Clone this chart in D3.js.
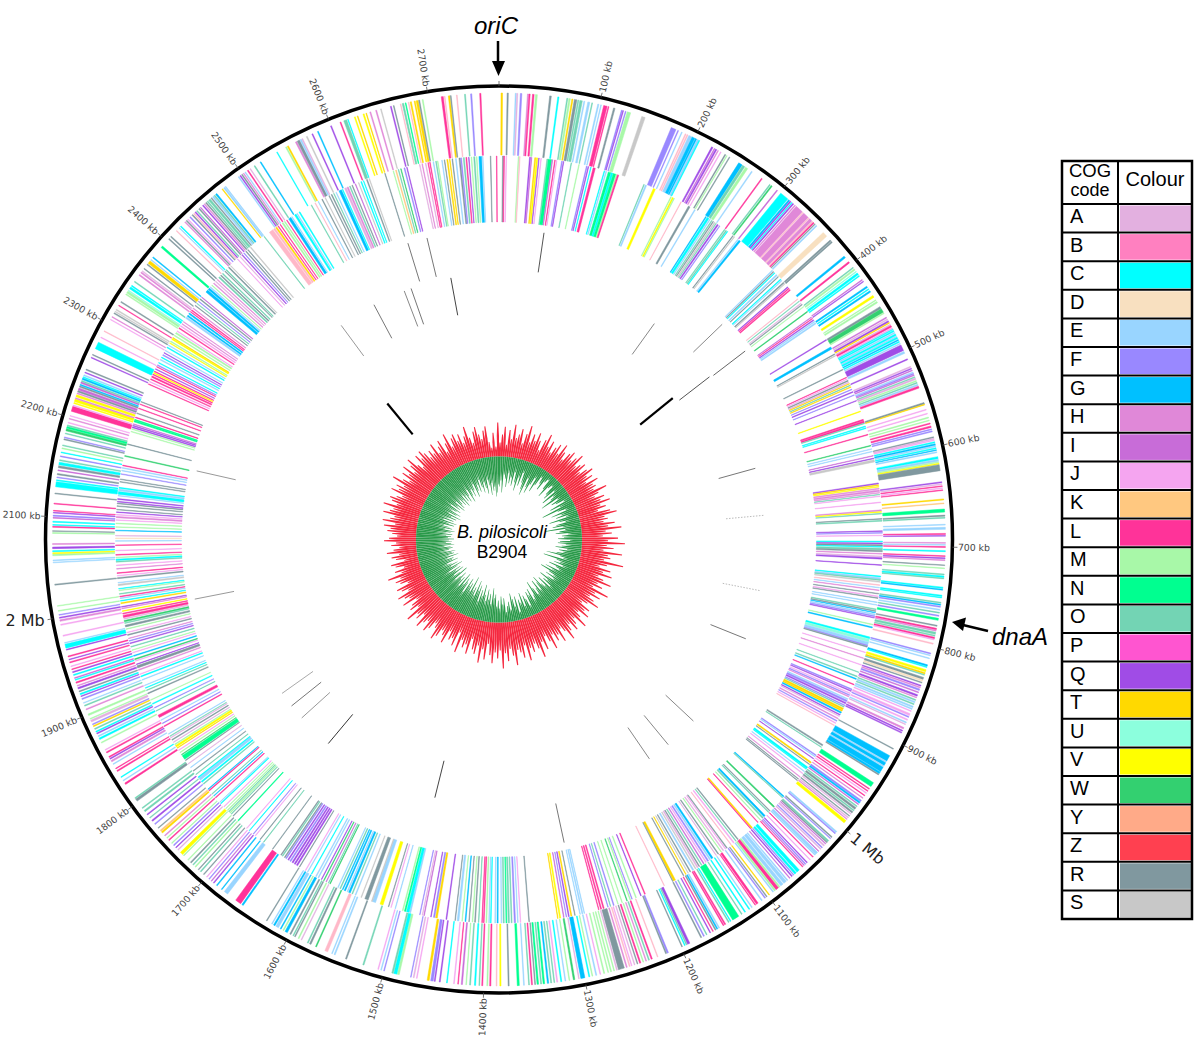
<!DOCTYPE html>
<html><head><meta charset="utf-8">
<script src="https://cdn.jsdelivr.net/npm/d3@7"></script>
<style>html,body{margin:0;background:#fff}svg{display:block}</style></head>
<body><svg id="c" width="1200" height="1037"></svg>
<script>
const genomeKb = 2770;
const markSpanKb = 2760;
const tickKb = d3.range(0, 2800, 100).filter(k => k < genomeKb);
const cogCodes = ["A","B","C","D","E","F","G","H","I","J","K","L","M","N","O","P","Q","T","U","V","W","Y","Z","R","S"];
const cogColours = ["#E3B0E0","#FF80C0","#00FFFF","#F8E0C0","#99D5FF","#9988FF","#00C0FF","#E088D8","#C86CD8","#F5A5F0","#FFC880","#FF3399","#A8F8A8","#00FF90","#73D4B4","#FF55D0","#A04CE6","#FFD900","#8CFFDD","#FFFF00","#33D070","#FFAA88","#FF4050","#80989F","#C8C8C8"];

// each gene: [start kb, length kb, COG code]; "x" = pale pink seen in the picture
const outerGenes = [
[2,1.5,"T"],[8,1.2,"R"],[16,1,"E"],[17.5,1,"A"],[21,1.5,"F"],[28,1,"H"],[29.5,1.2,"L"],[33,1.6,"L"],[36,1.8,"M"],
[50,1.6,"R"],[58,1.2,"C"],[67,1,"O"],[69,1.5,"M"],[72,1.2,"T"],[74.5,2.5,"R"],[78,1,"O"],[80,2.5,"O"],[84,1,"E"],[88,2,"E"],[92,.8,"O"],[98,1.2,"E"],[101,.7,"E"],[104,3.5,"L"],[108.5,.8,"L"],[114,1.5,"R"],[122,1,"F"],[123.5,.7,"Q"],[126,.8,"F"],[128,3.5,"M"],[143,3.5,"S"],
[174,5,"F"],[181,.8,"F"],[185,.8,"E"],[189,1,"x"],[191,1,"x"],[193,3,"E"],[196.5,3,"G"],[200,1.5,"G"],[202,2,"E"],[204,.8,"C"],[218,1.5,"Q"],[221,.8,"I"],[222.5,1.3,"Q"],[225,.8,"H"],[228,.8,"J"],[233,1,"R"],[235,.7,"M"],[238,.8,"R"],[249,4,"G"],[253.5,2.5,"O"],[257,2.5,"M"],[264,1,"E"],[276,1,"L"],[286,1,"O"],[288,1.2,"W"],[295,1,"I"],[300,9,"C"],[310,1.5,"G"],[312,1.2,"Q"],[314,.8,"C"],[315.5,1.2,"Q"],[318,1,"H"],[320,8,"H"],[328.5,.8,"x"],[330,6,"H"],[336.5,.8,"x"],[338,3,"H"],[341.5,1,"x"],[343,1.2,"L"],[345,.8,"R"],[347,1.2,"E"],
[357,5,"D"],[367,1.5,"R"],[369,1.2,"R"],[388,2,"G"],[395,1.5,"L"],[402,1,"O"],[404,1.5,"M"],[407,.7,"U"],[409,2,"C"],[412,1,"C"],[417,.8,"I"],[419,.8,"Q"],[425,1.5,"G"],[428,1,"C"],[430.5,1.5,"G"],[436,2,"V"],[441,.8,"M"],[443,1.5,"M"],[449,2,"R"],[451.5,4,"W"],[456,1,"M"],[461,1,"I"],[463,1,"A"],[465,1.5,"Q"],[467,.8,"T"],[469,1,"A"],[470.5,1.6,"L"],[473,1,"J"],[474.5,.8,"C"],[476,1.2,"C"],[478,1.2,"E"],[480,1.5,"C"],[482,1,"E"],[483.5,1.5,"C"],[486,1,"G"],[488,1,"C"],[490,1,"E"],[492,6,"Q"],[499,2,"E"],[507,1,"Q"],[515,1,"A"],[517,1,"Q"],[519,.8,"I"],[521,1,"E"],[522.5,1,"F"],[524,.8,"I"],[526,1,"O"],[527.5,1.5,"A"],[530,1,"M"],[532,1,"O"],[534,1.2,"E"],[536,2,"L"],
[553,1.5,"R"],[554.8,.7,"T"],[560,.8,"J"],[564,.8,"J"],[568,1,"M"],[571,.8,"M"],[574,1,"L"],[577,1.5,"L"],[580,.8,"F"],[582,1,"F"],[588,1,"R"],[589.5,1,"A"],[591,.8,"J"],[593,1,"C"],[595,1.5,"G"],[597,1,"E"],[599,1,"C"],[601,.8,"G"],[603,1,"E"],
[608,2,"C"],[610.5,2,"E"],[613,.8,"M"],[614.5,1,"V"],[616,6,"R"],[633,1,"Q"],[635,.8,"A"],[637,.8,"L"],[639,.8,"J"],[641,.7,"L"],[650,1,"T"],[654,.7,"K"],[660,3,"N"],[666,1,"R"],[668,1,"O"],[675,.8,"E"],[678,2,"E"],
[684,1,"L"],[686,.7,"Q"],[693,.8,"H"],[695,.7,"E"],[697,.8,"L"],[701,1,"C"],[706,.8,"L"],[708,1,"Q"],[710,.8,"H"],[715,.7,"R"],[718,.7,"M"],[724,1,"O"],[726,1.5,"C"],[728,.8,"O"],[737,1.2,"C"],[739,1,"G"],[745,1.2,"C"],[747,.7,"C"],[752,1,"O"],[754,1,"G"],[756,1,"F"],[759,1,"E"],[762,.8,"O"],[765,1,"F"],[768,2,"N"],[775,1,"R"],[778,1.5,"L"],[780,.8,"H"],[782,2,"O"],[785,1,"O"],[787,1.5,"L"],[789,.7,"J"],[793,1,"x"],
[803,1,"F"],[805,.8,"E"],[808,.8,"E"],[815,1.5,"G"],[817,.8,"C"],[820,2,"V"],[823,1.5,"T"],[825,.8,"O"],[828,2,"R"],[830.5,1.5,"D"],[833,.8,"R"],[836,1,"Q"],[838,1,"H"],[840,1.5,"F"],[843,1,"I"],[846,1.5,"Q"],[848.5,.8,"H"],[851,1,"O"],[853,1.5,"E"],[855.5,1,"O"],[858,1.5,"E"],[860.5,1,"E"],[863,.8,"J"],[866,2,"J"],[869,1,"F"],[872,1.2,"J"],[875,1,"E"],[877,.8,"A"],[881,1.5,"H"],[884,1,"Q"],[886,1,"Q"],
[904,.8,"R"],[912,6,"G"],[918.5,.8,"E"],[920,3,"G"],[923.5,.7,"E"],[925,5,"G"],[930.5,2,"G"],[933,1,"R"],
[943,4.5,"N"],[950,.8,"L"],[952.5,.8,"L"],[955,.8,"J"],[958,.7,"L"],[961,.7,"H"],[964,1.5,"F"],[966,1.5,"G"],[968.5,.8,"I"],[971,1,"O"],[973,2,"R"],[976,1,"O"],[978,1.5,"R"],[980.5,.8,"A"],[983,.8,"R"],[985,1,"A"],[987,.8,"H"],[989,3,"V"],
[1003,1.5,"E"],[1005,1,"F"],[1010,1,"R"],[1012,.8,"F"],[1015,1.5,"O"],[1017,1,"R"],[1019,.8,"I"],[1021,1.5,"A"],[1024,1,"F"],[1026,1,"A"],[1029,.8,"I"],[1031,2.5,"E"],[1034,1,"E"],[1037,.8,"L"],[1041,.8,"J"],[1045,.8,"Q"],[1047,1,"F"],[1049,.8,"I"],[1051,.8,"L"],[1056,3,"C"],[1060,2,"C"],[1063,.8,"F"],[1065,1,"Q"],[1068,.7,"I"],[1071,1,"E"],[1073,3,"E"],[1077,3,"E"],[1081,1.5,"M"],[1083,3,"L"],[1086.5,1.5,"M"],[1089,1,"E"],[1094,.8,"T"],[1097,.8,"R"],[1099,1,"F"],[1103,1,"E"],[1108,2,"L"],[1111,.7,"L"],[1115,.8,"E"],[1118,1,"C"],[1123,1,"C"],[1127,.8,"O"],[1131,7,"N"],[1140,.8,"C"],[1142,1,"O"],[1146,1.2,"L"],[1148,1,"L"],[1153,1,"E"],[1155,1.2,"G"],[1157,1,"R"],[1160,.8,"L"],[1163,.8,"Q"],[1167,.8,"O"],[1170,1,"F"],[1173,1,"R"],[1186,2.5,"Q"],[1189,1,"O"],[1191,.8,"C"],[1194,.8,"R"],
[1209,1.5,"F"],[1211,1,"R"],[1220,.8,"x"],[1226,1.2,"L"],[1229,1,"O"],[1232,.8,"H"],[1235,.8,"M"],[1238,1.2,"L"],[1241,.8,"R"],[1244,.8,"A"],[1247,.8,"J"],[1249,1,"x"],[1252,1,"H"],[1255,6,"R"],[1262,1,"A"],[1265,.8,"M"],[1268,1,"M"],[1271,.8,"M"],[1275,1,"M"],[1279,.8,"J"],[1283,1,"E"],[1287,.8,"M"],[1290,1,"C"],[1295,4,"G"],[1300.5,.8,"A"],[1305,1.5,"W"],[1310,.8,"M"],[1314,.8,"E"],[1318,1,"C"],[1322,1,"J"],[1325,.8,"O"],[1328,1,"O"],[1331,1.3,"G"],[1335,1.5,"N"],[1338,1,"O"],[1341,1.5,"N"],[1344,.8,"R"],[1347,1,"L"],[1350,.8,"O"],[1355,.8,"E"],[1360,2,"N"],[1370,1,"R"],[1378,1.2,"V"],[1382,.8,"x"],[1388,1.2,"L"],[1391,1,"M"],
[1396,1,"L"],[1399,.8,"O"],[1403,1.2,"C"],[1408,1,"O"],[1412,.7,"M"],[1416,1.2,"I"],[1420,.7,"L"],[1424,.8,"J"],[1431,.8,"C"],[1438,1,"Q"],[1443,1,"Q"],[1445,2.5,"F"],[1449,2,"T"],[1461,.8,"J"],[1464,1,"A"],[1467,.7,"F"],[1479,2,"M"],[1481.5,3,"C"],[1485,1.5,"O"],[1494,.8,"F"],[1497,.8,"E"],[1500,.8,"J"],[1515,1.2,"O"],[1533,1.2,"R"],[1545,1.2,"E"],[1548,.8,"E"],[1553,3,"x"],[1565,1,"W"],[1571,1.5,"R"],[1574,1,"O"],[1581,.8,"A"],[1584,1,"M"],[1588,1,"R"],[1590,.8,"O"],[1593,1.2,"R"],[1597,2.5,"G"],[1601,1,"M"],[1604,1,"G"],[1607,3,"E"],[1611,1.5,"G"],[1614,.8,"E"],[1620,.8,"R"],
[1648,1.5,"G"],[1651,6,"L"],[1667,4,"E"],[1674,.8,"G"],[1680,1,"G"],[1684,1,"Q"],[1687,.8,"I"],[1690,.8,"F"],[1693,.8,"J"],[1697,.8,"R"],[1701,1,"O"],[1704,.8,"R"],[1708,1,"M"],[1711,1,"O"],[1714,1.2,"R"],[1718,.8,"M"],[1724,1,"M"],[1726,3,"V"],[1732,.8,"A"],[1735,.8,"Q"],[1738,1,"F"],[1741,.8,"M"],[1745,1,"L"],[1748,.8,"M"],[1751,1,"H"],[1755,1.5,"T"],[1757,1.5,"K"],[1761,.8,"R"],[1766,1,"F"],[1770,1.3,"Q"],[1774,.8,"O"],[1778,1,"Q"],[1782,1.5,"O"],[1786,1,"O"],[1795,2.5,"R"],[1798,1,"O"],[1815,1.5,"L"],[1819,.8,"E"],[1823,.8,"C"],[1830,1.2,"L"],[1833,.7,"L"],[1838,.8,"E"],[1841,1.5,"H"],[1844,1,"Q"],[1846,1,"L"],[1851,1.2,"L"],[1854,.8,"J"],[1862,1,"M"],[1866,1.5,"C"],[1869,1,"E"],[1872,1,"Q"],[1874,1,"C"],[1877,1,"O"],[1880,1,"T"],[1882,1,"F"],[1885,2,"A"],[1888,.8,"M"],[1892,1.5,"M"],[1898,1,"H"],[1902,1,"O"],[1905,.7,"E"],[1909,1,"F"],[1912,.8,"Q"],[1914,1.2,"C"],[1917,1,"R"],[1920,1.5,"Q"],[1923,.8,"H"],[1926,1.2,"L"],[1929,1,"C"],[1931,.8,"I"],[1934,1,"C"],[1937,1,"Q"],[1940,.8,"L"],[1943,.8,"J"],[1947,1,"L"],[1950,.7,"Q"],[1953,1,"L"],
[1960,.8,"Q"],[1962,4,"C"],[1967,.7,"E"],[1974,1,"J"],[1985,1,"J"],[1989,1.5,"H"],[1992,1,"Q"],[1995,.8,"F"],[1999,.8,"M"],[2004,.7,"M"],
[2025,1,"R"],[2047,.7,"E"],[2049,.8,"E"],[2054,1.5,"M"],[2056,1,"V"],[2058,1,"C"],[2061,1.5,"Q"],[2065,1,"H"],[2076,.8,"M"],[2078,.7,"R"],[2082,1,"L"],[2084,.8,"C"],[2087,1,"C"],[2091,.8,"I"],[2093,1,"F"],[2096,.8,"Q"],[2098,.7,"L"],[2105,.8,"L"],[2115,.8,"R"],[2122,5,"C"],[2128,1,"C"],[2131,.8,"F"],[2134,1.2,"R"],[2138,.8,"I"],[2141,2,"R"],[2144,2.5,"C"],[2148,1,"O"],[2152,.8,"F"],[2156,.7,"C"],[2160,.8,"M"],[2163,.8,"O"],[2169,1,"R"],[2171,.8,"F"],[2175,.8,"O"],[2178,2,"W"],[2180.5,2,"N"],[2183,1,"O"],[2186,.8,"J"],[2190,.8,"H"],[2193,.7,"J"],[2198,5,"L"],[2203.5,.8,"J"],[2206,1,"V"],[2208,2.5,"V"],[2211,1,"H"],[2213,2,"V"],[2216,1,"H"],[2218,1.5,"R"],[2220,2,"I"],[2223,1.5,"R"],[2225,1,"G"],[2227,1.5,"I"],[2229,1,"O"],[2231,1.5,"G"],[2233,1,"C"],[2235,1,"E"],[2238,.8,"Q"],[2241,1,"R"],[2254,.8,"Q"],[2257,.8,"R"],[2264,7,"C"],[2276,.7,"J"],[2283,.7,"x"],[2296,.7,"J"],[2299,.7,"H"],[2303,1,"R"],[2305,.8,"S"],[2307,1,"S"],[2312,.7,"L"],[2316,1,"R"],[2325,1,"M"],[2327,2,"M"],[2329.5,.8,"U"],[2332,2,"C"],[2335,1,"C"],[2340,1,"O"],[2348,1.2,"H"],[2351,1.2,"H"],[2353,.8,"A"],[2356,.8,"R"],[2361,1,"R"],[2363,3,"T"],[2367,.8,"E"],[2370,1,"G"],[2383,2,"N"],[2394,1,"R"],[2397,1,"R"],[2405,.8,"x"],[2409,.7,"E"],[2411,1,"C"],[2417,1,"H"],[2419,1,"R"],[2421,.8,"J"],[2424,1,"F"],[2427,1,"R"],[2429,1,"x"],[2431,1,"Q"],[2433,1,"O"],[2436,1,"R"],[2438,.8,"I"],[2441,1,"Q"],[2443,1,"H"],[2445,1,"R"],[2447,1,"O"],[2449,2,"O"],[2452,1,"R"],[2454,1.5,"E"],[2456,1,"O"],[2458,1.5,"G"],[2466,.8,"T"],[2468,1.5,"E"],[2470,.8,"E"],
[2486,1,"E"],[2488,1,"Q"],[2490,1,"R"],[2492,.8,"H"],[2494,.8,"E"],[2497,1,"L"],[2500,.8,"A"],[2505,1,"O"],[2512,1,"G"],[2531,.8,"C"],[2541,1.2,"M"],[2543,1.2,"T"],[2552,1.5,"H"],[2554,2.5,"R"],[2557,1.5,"E"],[2559,1,"A"],[2564,1,"S"],[2570,1,"Q"],[2576,1,"G"],[2590,1,"Q"],[2600,1,"L"],[2604,3,"O"],[2608,.7,"C"],[2615,1,"V"],[2618,.8,"T"],[2624,1.2,"V"],[2627,.7,"T"],[2631,1,"H"],[2637,1,"H"],[2642,.8,"S"],[2652,1,"Q"],[2655,.8,"R"],[2662,.7,"x"],[2664,1.5,"O"],[2667,.8,"N"],[2670,.7,"x"],[2672,1.2,"T"],[2676,1,"T"],[2678,2,"T"],[2680.5,1,"R"],[2684,1,"M"],[2703,2,"L"],[2706,.8,"x"],[2710,1.5,"T"],[2712,.8,"R"],[2718,.8,"x"],[2726,1,"O"],[2732,1.2,"F"],[2741,1.2,"L"]
];

const innerGenes = [
[4,1.2,"R"],[5.5,.8,"L"],[8,.8,"J"],[22,.8,"M"],[23.5,.7,"x"],[35,1.2,"Q"],[37,.7,"I"],[41,1.2,"T"],[43,1.5,"V"],[45.5,.7,"Q"],[48,.7,"J"],[55,1,"O"],[56.5,4,"N"],[61,.8,"I"],[64,.8,"L"],[66,.7,"J"],[72,1,"F"],[74,.7,"Q"],[83,.8,"O"],[92,.8,"M"],[101,1,"F"],[103,.8,"Q"],[106,.7,"C"],[109,2.5,"L"],[122,.8,"C"],[124,1,"E"],[127,3,"N"],[130.5,2,"C"],[133,3,"N"],[136.5,1,"M"],[138,1.5,"L"],
[170,.8,"O"],[172,1.5,"E"],[182,2.5,"V"],[204,.8,"M"],[206,1.5,"V"],[208,.8,"M"],[217,.7,"x"],[227,2,"R"],[235,1,"E"],[250,1,"G"],[252,2.5,"C"],[255.5,1,"E"],[258,1,"O"],[260,.8,"R"],[262,1,"S"],[264,.8,"O"],[266,1.5,"Q"],[269,.8,"F"],[276,1,"O"],[278,1.2,"O"],[280,.7,"C"],[288,.8,"R"],[290,.7,"S"],[295,1,"E"],[297,2,"G"],
[348,1,"E"],[350,1,"R"],[352,.8,"C"],[355,1.5,"E"],[358,.8,"R"],[362,1,"C"],[364,.8,"E"],[367,1.2,"R"],[369,.8,"S"],[374,1,"Q"],[376,1,"L"],[378,1.2,"L"],[392,.7,"x"],[395,.7,"O"],[398,.8,"A"],[400,.8,"R"],[403,.7,"M"],[410,1,"W"],[418,.7,"I"],[420,.7,"L"],[422,1,"Q"],[424,1,"E"],[426,1.5,"E"],
[449,1,"Q"],[459,2.5,"G"],[468,.8,"R"],[470,.7,"S"],[488,.8,"R"],[498,.7,"L"],[500,.7,"J"],[502,1,"R"],[504,1,"A"],[506,.7,"T"],[508,.8,"O"],[510,.8,"T"],[513,.7,"F"],[516,1,"Q"],[520,.7,"F"],[527,.7,"Q"],[540,.8,"V"],[550,1.5,"L"],[552,2,"L"],[554.5,.7,"O"],[558,.8,"C"],[560,1,"C"],[568,.8,"L"],[581,.8,"W"],[585,.7,"E"],[588,.7,"E"],[593,.7,"I"],[596,.8,"Q"],[598,2.5,"S"],
[625,1.2,"Q"],[627,1,"T"],[629,.8,"V"],[631,1,"H"],[633,2,"H"],[636,.7,"H"],[638,.7,"O"],[640,.7,"J"],[647,.7,"J"],[656,1.2,"H"],[658,.7,"V"],[660,.7,"O"],[666,.7,"R"],[668,1,"O"],[680,.7,"Q"],[682,.7,"F"],[685,.7,"J"],[692,1,"C"],[694,1.2,"Q"],[696,1.5,"R"],[698,.8,"C"],[700,2,"O"],[702.5,1.5,"R"],[706,.8,"H"],[709,1,"A"],[711,1.5,"Q"],[719,.7,"Q"],
[732,1,"C"],[734,2,"E"],[736,1,"O"],[738,1.2,"S"],[742,.8,"x"],[745,.7,"E"],[748,.8,"H"],[752,.7,"R"],[755,.8,"J"],[757,.8,"R"],[762,.7,"E"],[765,.7,"E"],[770,1,"O"],[772,1,"R"],[774,.7,"G"],[776,1,"E"],[778,1,"F"],[780,.7,"Q"],[788,.8,"M"],[791,1.2,"G"],
[803,2,"C"],[805.5,3,"U"],[809,3,"E"],[812.5,1,"F"],[814,1,"R"],
[821,.7,"J"],[828,.7,"H"],[836,.7,"J"],[845,.7,"O"],[850,1,"O"],[853,1,"G"],[860,.8,"L"],[866,1,"F"],[868,1,"Q"],[871,.7,"J"],[873,1,"F"],[875,.8,"H"],[878,1,"E"],[880,2,"F"],[883,1.5,"Q"],[886,1,"F"],[888,.8,"O"],[890,2,"T"],[892.5,1.5,"T"],[895,1.5,"G"],[898,1,"Q"],[900,.8,"A"],[903,1,"H"],[906,1,"F"],[909,.7,"J"],[912,.7,"x"],
[938,1.5,"R"],[941,.7,"O"],[952,1,"F"],[954,.8,"E"],[957,.7,"Q"],[962,1.5,"T"],[965,.7,"R"],[969,2,"C"],[971.5,.7,"C"],[975,.7,"E"],[978,.8,"J"],[983,.7,"H"],[986,.7,"R"],[988,.7,"R"],
[1012,1.2,"G"],[1014,.8,"O"],[1028,1.5,"W"],[1035,.8,"R"],[1037,1,"O"],[1043,2,"G"],[1046,1.5,"O"],[1050,.8,"M"],[1054,.8,"L"],[1063,1.5,"T"],[1065,.7,"L"],[1084,1,"R"],[1087,.8,"O"],[1090,1.2,"J"],[1094,.8,"x"],[1100,1,"R"],[1102,.8,"J"],[1105,1,"A"],[1108,.8,"M"],[1112,1,"R"],[1115,.7,"A"],[1120,2,"G"],[1123,1.5,"E"],[1126,1.5,"F"],[1129,1,"J"],[1132,1,"I"],[1135,1,"O"],[1138,1,"R"],[1140,1.5,"A"],[1143,1,"S"],[1146,1.5,"E"],[1150,1,"R"],[1153,.7,"S"],[1156,.7,"T"],[1159,.8,"R"],[1170,2.5,"T"],[1173,.7,"R"],[1184,.7,"x"],
[1208,1,"L"],[1213,.8,"Q"],[1219,1,"M"],[1224,.7,"F"],[1226,1,"M"],[1230,.8,"W"],[1236,.7,"M"],[1241,.7,"M"],[1246,1,"F"],[1250,.7,"O"],[1253,.7,"F"],[1258,1.2,"L"],[1261,1.2,"L"],[1264,.7,"L"],[1281,.7,"E"],[1283,1.2,"E"],[1286,.7,"E"],[1292,.7,"R"],[1296,1.2,"T"],[1299,1,"Q"],[1302,.7,"F"],[1305,.8,"I"],[1309,1.3,"V"],[1312,.7,"T"],[1345,.8,"R"],[1355,.7,"J"],[1358,.7,"E"],[1361,1.5,"F"],[1365,1,"O"],[1368,1.5,"O"],[1371,1,"N"],[1374,1.2,"O"],[1377,.7,"E"],[1381,1.2,"G"],[1384,.8,"E"],[1389,.8,"C"],[1391,.8,"E"],[1394,1,"M"],
[1397,1,"L"],[1399,.8,"L"],[1403,.7,"O"],[1407,1,"R"],[1410,.8,"M"],[1414,.7,"R"],[1418,1,"G"],[1422,.7,"M"],[1426,2,"E"],[1430,.7,"R"],[1440,1,"Q"],[1451,2,"T"],[1454,1.5,"F"],[1458,.8,"Q"],[1466,.8,"I"],[1468,.7,"A"],[1471,.7,"F"],[1482,1.5,"E"],[1484,3,"C"],[1488,1.5,"N"],[1491,1,"M"],[1500,.7,"E"],[1505,.7,"J"],[1508,.7,"R"],
[1515,3.5,"V"],[1524,4,"E"],[1528,1,"S"],[1533,4,"R"],[1541,.8,"S"],[1548,1,"E"],[1552,1,"O"],[1555,2,"G"],[1558,1,"E"],[1561,1.5,"G"],[1564,1,"G"],[1567,1,"O"],[1570,.8,"E"],[1580,.8,"W"],[1582,.7,"O"],[1585,.7,"I"],[1588,.8,"W"],[1591,.7,"Q"],[1595,1,"E"],[1598,1,"E"],[1604,.8,"C"],[1609,.8,"E"],[1612,.8,"J"],[1620,.7,"R"],[1623,1.5,"Q"],[1626,1.5,"Q"],[1629,1.5,"Q"],[1632,1.5,"F"],[1635,1.2,"Q"],[1638,1.2,"F"],[1640,1,"R"],[1643,1,"O"],[1645,1,"R"],
[1657,.7,"R"],[1670,.7,"O"],[1675,.7,"R"],[1682,.7,"J"],[1685,.7,"F"],[1691,.7,"C"],[1695,.7,"J"],[1708,1,"N"],[1716,.7,"R"],[1719,.8,"O"],[1721,1,"M"],[1723,.8,"O"],[1725,1,"M"],[1728,.7,"M"],[1731,.7,"J"],[1736,1,"C"],[1738,.7,"E"],[1745,1,"L"],[1748,.7,"G"],[1751,.7,"O"],[1756,1,"L"],[1758,.7,"G"],[1766,1,"O"],[1769,1.5,"C"],[1772,3,"E"],[1775.5,1,"C"],[1780,.7,"O"],[1785,.8,"R"],[1790,.7,"E"],[1795,.7,"A"],[1800,.8,"R"],[1802,5,"N"],[1808,.7,"W"],[1811,.8,"M"],[1814,.7,"J"],[1817,.8,"T"],[1819,2,"V"],[1822,.8,"M"],[1825,.7,"A"],[1828,1,"R"],[1831,.8,"A"],[1833,.7,"O"],[1836,.7,"E"],[1846,1,"L"],[1850,.7,"F"],[1854,.7,"E"],[1858,3,"L"],[1866,.7,"O"],[1870,.7,"F"],[1875,1,"C"],[1880,.7,"M"],[1888,1,"R"],[1892,.7,"O"],[1895,.7,"C"],[1898,.7,"E"],
[1905,.7,"E"],[1909,1,"C"],[1912,.7,"J"],[1917,1,"H"],[1920,2.5,"R"],[1924,.7,"Q"],[1928,.7,"J"],[1930,1,"W"],[1934,1,"G"],[1938,.7,"J"],[1941,.7,"M"],[1945,.8,"O"],[1949,1,"Q"],[1952,.8,"F"],[1955,.7,"H"],[1959,1,"R"],[1962,.7,"J"],[1966,.7,"M"],[1969,2,"R"],[1973,1,"O"],[1975,1.5,"W"],[1978,.8,"A"],[1980,2.5,"L"],[1984,1,"L"],[1987,.8,"V"],[1990,.8,"H"],[1992,.8,"Q"],[1996,1.2,"T"],[1999,.8,"C"],[2002,.8,"E"],[2004,.8,"L"],[2007,.8,"O"],[2011,.7,"M"],[2013,.7,"C"],[2017,1.5,"S"],[2020,.7,"E"],[2025,1.2,"R"],[2028,.7,"J"],[2031,.8,"L"],[2036,.7,"H"],[2040,.7,"J"],[2044,1,"O"],[2046,1.5,"C"],[2049,.7,"M"],[2052,.8,"L"],[2057,.7,"J"],[2063,.8,"L"],[2068,.7,"E"],[2071,.8,"D"],[2074,.7,"A"],[2080,.7,"G"],[2084,.7,"M"],[2088,.8,"M"],
[2092,.7,"J"],[2095,1.5,"H"],[2098,.8,"J"],[2101,.7,"Q"],[2104,.7,"R"],[2108,.8,"R"],[2111,.8,"R"],[2113,1,"Q"],[2116,1,"Q"],[2120,.7,"E"],[2122,3,"C"],[2126,2,"E"],[2129,1,"C"],[2136,.8,"R"],[2139,.7,"R"],[2145,.8,"F"],[2149,.8,"E"],[2152,1,"E"],[2155,.8,"L"],[2166,1,"W"],[2180,.7,"R"],[2195,.8,"M"],[2198,.8,"M"],[2200,1,"Q"],[2202,1,"Q"],[2204,.7,"I"],[2207,1.5,"N"],[2209,1,"N"],[2212,.8,"L"],[2217,.8,"R"],[2223,.7,"L"],[2228,.7,"L"],[2231,.7,"R"],
[2253,.7,"L"],[2256,.7,"J"],[2259,1,"L"],[2262,1.5,"L"],[2265,1,"L"],[2267,1,"V"],[2269,.8,"L"],[2272,.7,"Q"],[2275,.7,"L"],[2277,.8,"F"],[2280,.8,"C"],[2284,1,"E"],[2287,.8,"C"],[2290,1,"F"],[2293,.7,"Q"],[2296,.7,"E"],[2300,1,"C"],[2303,.8,"E"],[2306,.8,"V"],[2308,1,"M"],[2311,1.5,"V"],[2313,.7,"T"],[2316,1,"M"],[2319,1.5,"M"],[2322,.8,"J"],[2326,1,"L"],[2329,1,"J"],[2332,.8,"H"],[2335,.7,"H"],[2340,2,"E"],[2343,1.5,"G"],[2346,1.5,"G"],[2349,.7,"L"],[2351,1,"L"],[2354,.8,"H"],[2358,.7,"R"],[2361,.7,"O"],[2364,.7,"F"],[2367,1,"R"],[2370,.7,"I"],[2378,3,"G"],[2382,2,"G"],[2385,1,"E"],[2388,.7,"M"],[2391,1,"H"],[2394,1,"A"],[2397,.8,"H"],[2400,1.5,"O"],[2403,1.2,"R"],[2406,1,"O"],[2410,.8,"R"],[2412,1,"O"],[2416,1.2,"R"],[2419,.7,"S"],[2430,.7,"J"],[2434,.8,"A"],[2437,1,"Q"],[2440,.8,"F"],[2443,1,"R"],[2446,.8,"R"],[2450,1,"S"],
[2470,.8,"O"],[2478,5,"x"],[2484,2,"x"],[2487,1.5,"T"],[2490,.8,"L"],[2493,.7,"L"],[2496,1.5,"M"],[2499,1,"M"],[2502,.8,"L"],[2505,3,"G"],[2509,.7,"E"],[2513,2,"C"],[2516,.8,"E"],[2519,1.2,"C"],
[2535,.8,"O"],[2540,.7,"x"],[2544,.7,"E"],[2549,.8,"R"],[2553,.7,"S"],[2558,.8,"R"],[2561,1,"R"],[2564,.7,"O"],[2567,.7,"E"],[2571,3,"G"],[2575,.8,"C"],[2578,2,"A"],[2581,1.5,"H"],[2584,1,"O"],[2587,.8,"R"],[2591,.7,"I"],[2595,.7,"S"],[2598,1,"C"],[2601,.7,"C"],[2605,1,"R"],[2608,.7,"S"],[2627,.7,"R"],[2637,.7,"M"],[2640,1,"K"],[2643,.8,"O"],[2646,.7,"W"],[2650,1,"F"],[2653,.8,"Q"],
[2668,.8,"A"],[2671,.8,"H"],[2675,.8,"A"],[2678,.7,"L"],[2680,.8,"L"],[2684,.8,"E"],[2687,1,"O"],[2689,.8,"M"],[2694,.8,"E"],[2697,.7,"R"],[2700,1.2,"T"],[2703,.8,"T"],[2706,.8,"R"],[2710,1,"E"],[2714,1.5,"R"],[2716,1,"F"],[2719,1.2,"O"],[2722,1,"L"],[2725,.7,"Q"],[2728,.8,"M"],[2731,1.3,"O"],[2734,.8,"M"],[2737,3,"G"],[2741,.7,"E"],[2750,.7,"R"],[2757,.7,"L"]
];

// RNA tracks: [position kb, track index 0..3, shade]
const rnaMarks = [
[64,0,"#555"],[353,0,"#888"],[403,0,"#666"],[1287,0,"#777"],[1985,0,"#999"],[2168,0,"#999"],[2629,0,"#777"],[2657,0,"#777"],
[274,1,"#888"],[401,1,"#555"],[571,1,"#777"],[650,1,"#bbb"],[775,1,"#bbb"],[858,1,"#777"],[1020,1,"#888"],[1077,1,"#888"],[1116,1,"#888"],[1487,1,"#444"],[1686,1,"#333"],[1747,1,"#999"],[1773,1,"#777"],[1799,1,"#aaa"],[2481,1,"#999"],[2545,1,"#777"],[2600,1,"#888"],[2612,1,"#777"],[2680,1,"#444"],
[390,2,"#000"],[2458,3,"#000"]
];
const rnaInner = [270,228,182,136];
const rnaOuter = [310,266,224,176];

// histogram, one value per window going clockwise from oriC
const redHeights = [
14,22,30,12,27,18,33,20,24,30,16,26,35,19,28,22,31,24,15,27,34,22,29,18,25,30,21,33,26,19,28,32,24,29,35,23,
27,31,22,29,34,25,30,21,33,26,28,24,37,27,22,31,26,35,24,29,20,32,38,25,28,23,34,27,40,24,30,21,36,26,43,
25,32,22,41,27,30,24,44,28,21,33,26,36,23,29,38,25,31,22,40,27,34,24,30,37,26,21,32,28,35,24,29,39,26,31,
36,27,33,41,30,25,38,29,34,26,40,31,24,37,28,43,33,27,35,30,42,26,38,32,29,44,34,27,39,31,46,28,36,30,41,
33,22,38,28,42,25,34,30,20,36,27,31,24,38,18,33,26,29,21,35,28,24,32,37,26,22,30,35,25,29,36,23,31,27,38,
22,30,26,19,33,24,28,34,21,27,31,18,25,29,23,35,20,26,16,24,28,14,22,26,18,30,23,17,25,20,32,27,19,24,29,
26,33,22,35,28,24,36,30,27,38,25,31,34,28,23,36,29,33,26,40,30,24,34,28,37,25,32,38,27,22,35,29,36,31,24,
30,25,34,22,28,33,19,27,36,21,29,32,24,30,20,26,35,23,17,28,32,24,19,27,31,15,9,24,10,34];
const greenDepths = [
30,24,36,18,22,30,16,26,20,28,14,24,32,18,26,12,22,28,34,16,24,30,20,12,26,18,8,14,20,10,6,16,24,12,8,18,
22,10,26,14,18,30,12,20,16,8,24,14,34,18,10,26,16,22,12,30,20,14,24,28,18,36,16,22,26,14,20,18,24,12,22,
24,16,20,26,14,22,18,24,34,20,16,36,22,18,24,14,28,20,16,30,22,34,24,18,26,16,22,30,20,24,14,28,18,22,32,
26,18,30,22,16,24,32,18,14,26,20,24,10,18,22,12,26,16,20,8,24,14,22,28,12,20,16,10,24,18,26,14,22,16,28,
24,34,18,28,22,32,20,26,36,24,30,18,34,28,38,22,30,26,40,24,32,28,36,20,30,34,26,38,22,32,28,36,30,24,40,
32,26,38,30,36,24,34,40,28,36,30,26,38,32,34,28,40,30,36,34,38,30,32,36,34,28,38,35,30,36,33,38,32,35,30,
36,30,34,38,28,35,32,26,36,30,38,24,34,28,36,30,40,26,34,38,28,32,36,24,34,30,38,26,36,32,28,35,30,38,26,
34,28,36,30,24,38,32,26,34,28,22,36,30,24,32,20,28,34,24,30,36,22,28,38,26,34,30,40,36,28];

const cx = 499, cy = 539.5, R = 453.5;
const svg = d3.select("#c");
const g = svg.append("g").attr("transform", `translate(${cx},${cy})`);
const tickAng = d3.scaleLinear().domain([0, genomeKb]).range([0, 2 * Math.PI]);
const ang = d3.scaleLinear().domain([0, markSpanKb]).range([0, 2 * Math.PI]);
const colour = d3.scaleOrdinal().domain(cogCodes.concat("x")).range(cogColours.concat("#FFB8C8"));
const arc = d3.arc();

function ring(data, r0, r1) {
  g.append("g").selectAll("path").data(data).join("path")
    .attr("fill", d => colour(d[2]))
    .attr("stroke", d => colour(d[2]))
    .attr("stroke-width", 0.5)
    .attr("d", d => arc({innerRadius: r0, outerRadius: r1, startAngle: ang(d[0]), endAngle: ang(d[0] + d[1])}));
}
ring(outerGenes, 384.5, 446.5);
ring(innerGenes, 317.5, 383.5);

g.append("g").selectAll("line").data(rnaMarks).join("line")
  .attr("stroke", d => d[2])
  .attr("stroke-width", d => d[2] === "#000" ? 2.2 : 1)
  .attr("stroke-dasharray", d => d[2] === "#bbb" ? "1.5 1.5" : null)
  .attr("x1", d => rnaInner[d[1]] * Math.sin(ang(d[0])))
  .attr("y1", d => -rnaInner[d[1]] * Math.cos(ang(d[0])))
  .attr("x2", d => rnaOuter[d[1]] * Math.sin(ang(d[0])))
  .attr("y2", d => -rnaOuter[d[1]] * Math.cos(ang(d[0])));

const histBase = 83;
const band = d3.scaleBand().domain(d3.range(redHeights.length)).range([0, 2 * Math.PI]).paddingInner(0.05);
const spike = d3.lineRadial().angle(p => p[0]).radius(p => p[1]).curve(d3.curveLinearClosed);
function bar(i, tipR) {
  const a0 = band(i), w = band.bandwidth(), m = a0 + w / 2, t = w * 0.2;
  const shoulder = histBase + (tipR - histBase) * 0.6;
  return spike([[a0, histBase], [a0, shoulder], [m - t, tipR], [m + t, tipR], [a0 + w, shoulder], [a0 + w, histBase]]);
}
const hist = g.append("g");
hist.selectAll("path.r").data(redHeights).join("path").attr("class","r").attr("fill", "#F5283F")
  .attr("d", (d, i) => bar(i, histBase + d));
hist.selectAll("path.g").data(greenDepths).join("path").attr("class","g").attr("fill", "#2A9A4A")
  .attr("d", (d, i) => bar(i, histBase - d));

g.append("circle").attr("r", R).attr("fill", "none").attr("stroke", "#000").attr("stroke-width", 3.5);

const ticks = g.append("g").selectAll("g").data(tickKb).join("g");
ticks.append("line").attr("stroke", "#555").attr("stroke-width", 0.8)
  .attr("x1", d => R * Math.sin(tickAng(d))).attr("y1", d => -R * Math.cos(tickAng(d)))
  .attr("x2", d => (R + 5) * Math.sin(tickAng(d))).attr("y2", d => -(R + 5) * Math.cos(tickAng(d)));
const label = k => k === 1000 ? "1 Mb" : k === 2000 ? "2 Mb" : k + " kb";
ticks.filter(d => d > 0).append("text").text(label)
  .attr("font-family", "'DejaVu Sans',sans-serif")
  .attr("font-size", d => d % 1000 === 0 ? 16 : 9.3)
  .attr("fill", d => d % 1000 === 0 ? "#222" : "#444")
  .attr("dy", "0.35em")
  .attr("text-anchor", d => tickAng(d) < Math.PI ? "start" : "end")
  .attr("transform", d => {
    const a = tickAng(d), deg = a * 180 / Math.PI, off = R + (d % 1000 === 0 ? 8 : 5.5);
    const x = off * Math.sin(a), y = -off * Math.cos(a);
    const rot = d === 2000 ? 0 : (a < Math.PI ? deg - 90 : deg + 90);
    return `translate(${x},${y}) rotate(${rot})`;
  });

const center = svg.append("g").attr("font-family", "'Liberation Sans',Arial,sans-serif").attr("text-anchor", "middle").attr("fill", "#000");
center.append("text").attr("x", 502).attr("y", 538).attr("font-size", 18).attr("font-style", "italic").text("B. pilosicoli");
center.append("text").attr("x", 502).attr("y", 558).attr("font-size", 17.5).text("B2904");

const note = svg.append("g").attr("font-family", "'Liberation Sans',Arial,sans-serif").attr("fill", "#000");
note.append("text").attr("x", 496).attr("y", 34).attr("text-anchor", "middle").attr("font-size", 24).attr("font-style", "italic").text("oriC");
note.append("text").attr("x", 992).attr("y", 645).attr("font-size", 24).attr("font-style", "italic").text("dnaA");
note.append("line").attr("x1", 498).attr("y1", 41).attr("x2", 498).attr("y2", 64).attr("stroke", "#000").attr("stroke-width", 2.5);
note.append("path").attr("d", "M492,61L505,61L498.5,76Z");
note.append("line").attr("x1", 988).attr("y1", 631).attr("x2", 963).attr("y2", 625).attr("stroke", "#000").attr("stroke-width", 2.5);
note.append("path").attr("d", "M952,622L966,617.5L963,631Z");

// legend table
const lx0 = 1062, lx1 = 1118, lx2 = 1192, ly0 = 161, ly1 = 204, rowH = 28.6;
const rowY = d3.scaleLinear().domain([0, cogCodes.length]).range([ly1, ly1 + rowH * cogCodes.length]);
const leg = svg.append("g").attr("font-family", "'Liberation Sans',Arial,sans-serif").attr("fill", "#000");
leg.selectAll("rect.s").data(cogCodes).join("rect").attr("class","s")
  .attr("x", lx1 + 2).attr("width", lx2 - lx1 - 3)
  .attr("y", (d, i) => rowY(i) + 1.5).attr("height", rowH - 3)
  .attr("fill", d => colour(d));
leg.selectAll("text.c").data(cogCodes).join("text").attr("class","c")
  .attr("x", lx0 + 8).attr("y", (d, i) => rowY(i) + 19).attr("font-size", 20).text(d => d);
leg.selectAll("line.h").data(d3.range(cogCodes.length + 1)).join("line").attr("class","h")
  .attr("x1", lx0).attr("x2", lx2).attr("y1", i => rowY(i)).attr("y2", i => rowY(i))
  .attr("stroke", "#000").attr("stroke-width", 2);
leg.append("rect").attr("x", lx0).attr("y", ly0).attr("width", lx2 - lx0).attr("height", rowY(cogCodes.length) - ly0)
  .attr("fill", "none").attr("stroke", "#000").attr("stroke-width", 2.5);
leg.append("line").attr("x1", lx1).attr("x2", lx1).attr("y1", ly0).attr("y2", rowY(cogCodes.length)).attr("stroke", "#000").attr("stroke-width", 2);
leg.append("text").attr("x", 1090).attr("y", 177).attr("text-anchor", "middle").attr("font-size", 18.5).text("COG");
leg.append("text").attr("x", 1090).attr("y", 195.5).attr("text-anchor", "middle").attr("font-size", 18).text("code");
leg.append("text").attr("x", 1155).attr("y", 186).attr("text-anchor", "middle").attr("font-size", 20).text("Colour");
</script></body></html>
